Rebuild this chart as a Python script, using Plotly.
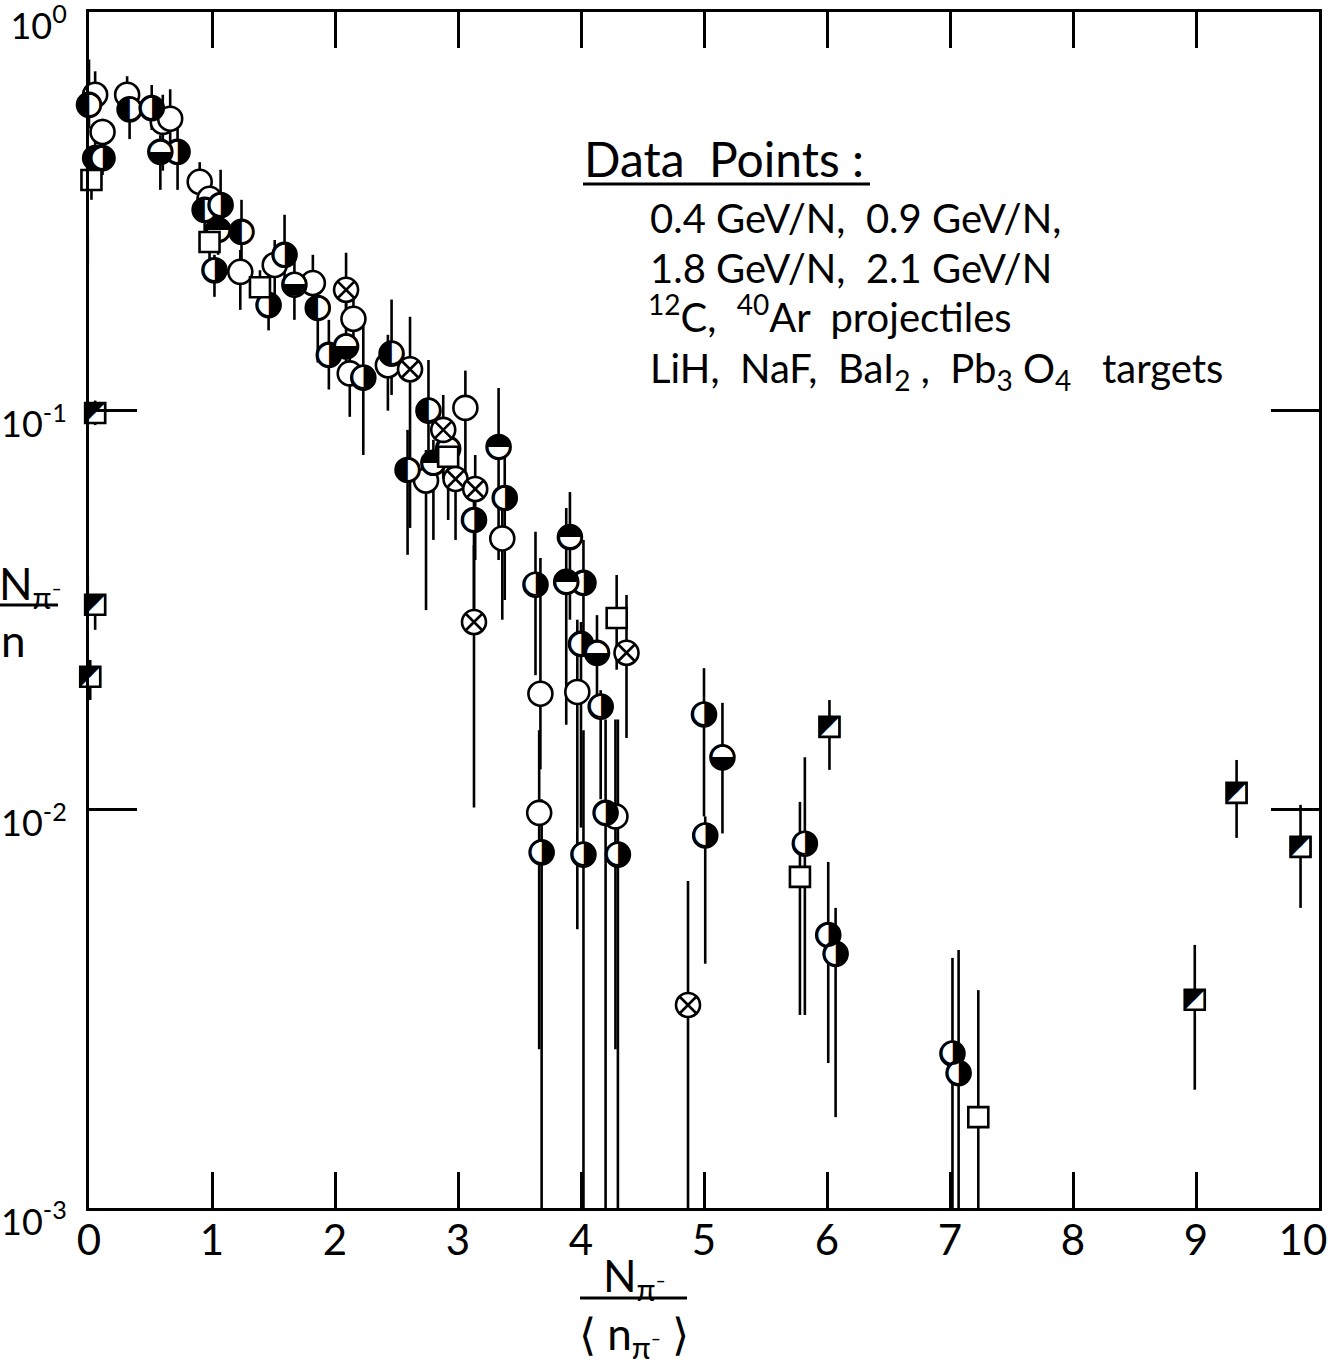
import plotly.graph_objects as go

# ---------------- data (x = N/<n>, y = N/n, bar top, bar bottom) ----------------
open_c_x = [0.05, -0.05, -0.10, -0.14, 0.11, 0.31, 0.60, 0.66, 0.90, 0.98, 1.23, 1.51, 1.82, 2.15,
            2.12, 2.43, 3.06, 2.74, 3.36, 3.67, 3.66, 3.97, 4.28]
open_c_y = [0.62, 0.56, 0.50, 0.48, 0.50, 0.62, 0.53, 0.54, 0.375, 0.34, 0.223, 0.232, 0.209, 0.170,
            0.124, 0.130, 0.1016, 0.0668, 0.0478, 0.0195, 0.0098, 0.0197, 0.0096]
open_c_hi = [0.71, 0.62, 0.55, 0.52, 0.54, 0.69, 0.62, 0.64, 0.42, 0.37, 0.253, 0.268, 0.246, 0.201,
             0.150, 0.155, 0.126, 0.0797, 0.0564, 0.0427, 0.0158, 0.0299, 0.0168]
open_c_lo = [0.55, 0.51, 0.41, 0.43, 0.45, 0.57, 0.40, 0.45, 0.34, 0.29, 0.179, 0.190, 0.190, 0.142,
             0.0965, 0.100, 0.0674, 0.0316, 0.0299, 0.0126, 0.0025, 0.0050, 0.0025]

left_x = [0.00, 0.05, 0.33, 0.94, 1.24, 1.86, 2.46, 2.76, 2.59]
left_y = [0.585, 0.43, 0.57, 0.319, 0.281, 0.181, 0.139, 0.100, 0.071]
left_hi = [0.76, 0.48, 0.62, 0.358, 0.338, 0.201, 0.190, 0.134, 0.0895]
left_lo = [0.51, 0.38, 0.48, 0.268, 0.213, 0.132, 0.1095, 0.071, 0.0435]

right_x = [0.11, 0.51, 0.72, 1.07, 1.02, 1.59, 1.46, 1.95, 2.23, 3.13, 3.38, 3.63, 3.68, 4.02,
           4.00, 4.16, 4.20, 4.02, 4.30, 5.00, 5.01, 5.82, 6.01, 6.07, 7.02, 7.07]
right_y = [0.43, 0.574, 0.446, 0.328, 0.225, 0.246, 0.184, 0.138, 0.121, 0.0532, 0.0604, 0.0366,
           0.0078, 0.0370, 0.0260, 0.0181, 0.0098, 0.0077, 0.0077, 0.0173, 0.0086, 0.0082,
           0.00484, 0.00434, 0.00244, 0.00218]
right_hi = [0.536, 0.656, 0.545, 0.402, 0.246, 0.310, 0.207, 0.169, 0.164, 0.0633, 0.0774, 0.0497,
            0.0106, 0.0474, 0.0295, 0.0199, 0.0168, 0.0158, 0.0168, 0.0226, 0.0096, 0.0135,
            0.00738, 0.00566, 0.00424, 0.00444]
right_lo = [0.39, 0.506, 0.358, 0.276, 0.193, 0.201, 0.159, 0.113, 0.0774, 0.0316, 0.0335, 0.0217,
            0.001, 0.0274, 0.0090, 0.0106, 0.001, 0.001, 0.001, 0.0096, 0.0041, 0.00305,
            0.00231, 0.00169, 0.001, 0.001]

top_x = [1.05, 2.80, 3.33, 3.91, 3.88]
top_y = [0.284, 0.0740, 0.0811, 0.0482, 0.0372]
top_hi = [0.310, 0.0845, 0.114, 0.0625, 0.0570]
top_lo = [0.246, 0.0474, 0.0422, 0.0299, 0.0163]

bot_x = [0.58, 1.67, 2.09, 2.92, 4.13, 5.15]
bot_y = [0.446, 0.207, 0.145, 0.0802, 0.0247, 0.0135]
bot_hi = [0.491, 0.246, 0.190, 0.0948, 0.0307, 0.0185]
bot_lo = [0.358, 0.169, 0.126, 0.0532, 0.0178, 0.0087]

cross_x = [2.09, 2.61, 2.88, 2.98, 3.14, 3.13, 4.37, 4.87]
cross_y = [0.201, 0.127, 0.0895, 0.0674, 0.0636, 0.0295, 0.0247, 0.00323]
cross_hi = [0.249, 0.172, 0.1095, 0.0845, 0.0774, 0.0460, 0.0345, 0.00661]
cross_lo = [0.169, 0.0508, 0.0674, 0.0474, 0.0422, 0.0101, 0.0151, 0.001]

sq_x = [0.02, -0.02, 0.98, 1.39, 2.92, 4.29, 5.78, 7.23]
sq_y = [0.379, 0.0931, 0.265, 0.204, 0.0766, 0.0302, 0.00677, 0.00169]
sq_hi = [0.413, 0.1016, 0.292, 0.225, 0.0845, 0.0387, 0.01044, 0.00352]
sq_lo = [0.338, 0.0846, 0.232, 0.179, 0.0674, 0.0224, 0.00305, 0.001]

hsq_x = [-0.01, 0.05, -0.05, -0.07, -0.01, 0.05, 0.01, 6.02, 8.99, 9.33, 9.85]
hsq_y = [0.253, 0.0987, 0.0731, 0.0405, 0.0359, 0.0326, 0.0215, 0.0161, 0.00333, 0.0110, 0.00805]
hsq_hi = [0.276, 0.106, 0.0774, 0.0460, 0.0387, 0.0345, 0.0237, 0.0188, 0.00457, 0.0133, 0.01026]
hsq_lo = [0.232, 0.092, 0.0651, 0.0355, 0.0335, 0.0282, 0.0188, 0.01256, 0.00198, 0.00848, 0.00566]

x_ticks = [0, 1, 2, 3, 4, 5, 6, 7, 8, 9, 10]
x_tick_text = ["0", "1", "2", "3", "4", "5", "6", "7", "8", "9", "10\u00a0\u00a0\u00a0"]
y_ticks = [1, 0.1, 0.01, 0.001]
y_tick_text = ["10<sup>0</sup>", "10<sup>-1</sup>", "10<sup>-2</sup>", "10<sup>-3</sup>"]

FONT = "Lato"
GLYPH_FONT = "DejaVu Sans"

groups = [
    (open_c_x, open_c_y, open_c_hi, open_c_lo),
    (left_x, left_y, left_hi, left_lo),
    (right_x, right_y, right_hi, right_lo),
    (top_x, top_y, top_hi, top_lo),
    (bot_x, bot_y, bot_hi, bot_lo),
    (cross_x, cross_y, cross_hi, cross_lo),
    (sq_x, sq_y, sq_hi, sq_lo),
    (hsq_x, hsq_y, hsq_hi, hsq_lo),
]

fig = go.Figure()

# error bars first (behind all markers)
ex, ey, eplus, eminus = [], [], [], []
for gx, gy, ghi, glo in groups:
    ex += gx
    ey += gy
    eplus += [h - v for h, v in zip(ghi, gy)]
    eminus += [v - l for v, l in zip(gy, glo)]
fig.add_trace(go.Scatter(
    x=ex, y=ey, mode="markers",
    marker=dict(size=1, color="rgba(0,0,0,0)"),
    error_y=dict(type="data", symmetric=False, array=eplus, arrayminus=eminus,
                 color="black", thickness=2.6, width=0),
    cliponaxis=False, hoverinfo="skip", showlegend=False))

CS = 24  # circle marker size
SS = 20  # square marker size

def base(xs, ys, symbol, size):
    fig.add_trace(go.Scatter(
        x=xs, y=ys, mode="markers",
        marker=dict(symbol=symbol, size=size, color="white",
                    line=dict(color="black", width=2.6)),
        cliponaxis=False, showlegend=False))

def glyph(xs, ys, ch, size):
    fig.add_trace(go.Scatter(
        x=xs, y=ys, mode="text", text=[ch] * len(xs),
        textposition="middle center",
        textfont=dict(family=GLYPH_FONT, size=size, color="black"),
        cliponaxis=False, showlegend=False))

base(open_c_x, open_c_y, "circle", CS)
base(left_x, left_y, "circle", CS)
glyph(left_x, left_y, "\u25D0", 31)
base(right_x, right_y, "circle", CS)
glyph(right_x, right_y, "\u25D1", 31)
base(top_x, top_y, "circle", CS)
glyph(top_x, top_y, "\u25D3", 31)
base(bot_x, bot_y, "circle", CS)
glyph(bot_x, bot_y, "\u25D2", 31)
base(cross_x, cross_y, "circle-x", CS)
base(sq_x, sq_y, "square", SS)
base(hsq_x, hsq_y, "square", SS)
glyph(hsq_x, hsq_y, "\u25E9", 28)

L, R, T, B = 89, 9, 12, 158
W, H = 1328, 1366
PW, PH = W - L - R, H - T - B

def px(xpix):
    return (xpix - L) / PW

def py(ypix):
    return (H - B - ypix) / PH

ann = []
ann.append(dict(text="Data  Points :", x=px(582), y=py(158), xanchor="left", yanchor="middle",
                font=dict(size=48)))
ann.append(dict(text="0.4 GeV/N,  0.9 GeV/N,", x=px(648), y=py(218), xanchor="left",
                yanchor="middle", font=dict(size=40)))
ann.append(dict(text="1.8 GeV/N,  2.1 GeV/N", x=px(648), y=py(268), xanchor="left",
                yanchor="middle", font=dict(size=40)))
ann.append(dict(text="<sup>12</sup>C,  <sup>40</sup>Ar  projectiles", x=px(646), y=py(314),
                xanchor="left", yanchor="middle", font=dict(size=40)))
ann.append(dict(text="LiH,  NaF,  BaI<sub>2</sub> ,  Pb<sub>3</sub> O<sub>4</sub>   targets",
                x=px(648), y=py(370), xanchor="left", yanchor="middle", font=dict(size=40)))
# y-axis title
ann.append(dict(text="N<sub>\u03C0\u207B</sub>", x=px(30), y=py(586), xanchor="center",
                yanchor="middle", font=dict(size=44)))
ann.append(dict(text="n", x=px(13), y=py(640), xanchor="center", yanchor="middle",
                font=dict(size=44)))
# x-axis title
ann.append(dict(text="N<sub>\u03C0\u207B</sub>", x=px(634), y=py(1278), xanchor="center",
                yanchor="middle", font=dict(size=44)))
ann.append(dict(text="\u27E8 n<sub>\u03C0\u207B</sub> \u27E9", x=px(634), y=py(1336),
                xanchor="center", yanchor="middle", font=dict(size=44)))
for a in ann:
    a.update(xref="paper", yref="paper", showarrow=False)
    a["font"].update(family=FONT, color="black")

shapes = [
    dict(type="line", xref="paper", yref="paper", x0=px(583), x1=px(870), y0=py(184), y1=py(184),
         line=dict(color="black", width=3)),
    dict(type="line", xref="paper", yref="paper", x0=px(0), x1=px(58), y0=py(605), y1=py(605),
         line=dict(color="black", width=3)),
    dict(type="line", xref="paper", yref="paper", x0=px(580), x1=px(687), y0=py(1298),
         y1=py(1298), line=dict(color="black", width=3)),
]

fig.update_layout(
    width=W, height=H,
    margin=dict(l=L, r=R, t=T, b=B, autoexpand=False),
    paper_bgcolor="white", plot_bgcolor="white",
    showlegend=False,
    annotations=ann, shapes=shapes,
    font=dict(family=FONT, color="black"),
)
fig.update_xaxes(
    range=[0, 10], tickvals=x_ticks, ticktext=x_tick_text,
    showgrid=False, zeroline=False, automargin=False,
    showline=True, linecolor="black", linewidth=3, mirror="ticks",
    ticks="inside", ticklen=36, tickwidth=3, tickcolor="black",
    tickfont=dict(family=FONT, size=42, color="black"),
    ticklabeloverflow="allow", ticklabelstandoff=-6,
)
fig.update_yaxes(
    type="log", range=[-3, 0], tickvals=y_ticks, ticktext=y_tick_text,
    showgrid=False, zeroline=False, automargin=False,
    showline=True, linecolor="black", linewidth=3, mirror="ticks",
    ticks="inside", ticklen=48, tickwidth=3, tickcolor="black",
    tickfont=dict(family=FONT, size=36, color="black"),
    ticklabeloverflow="allow", ticklabelstandoff=12, ticklabelshift=14,
)

fig.write_html("out.html",
               config={"displayModeBar": False},
               post_script="document.body.style.margin='0';document.body.style.overflow='hidden';")
